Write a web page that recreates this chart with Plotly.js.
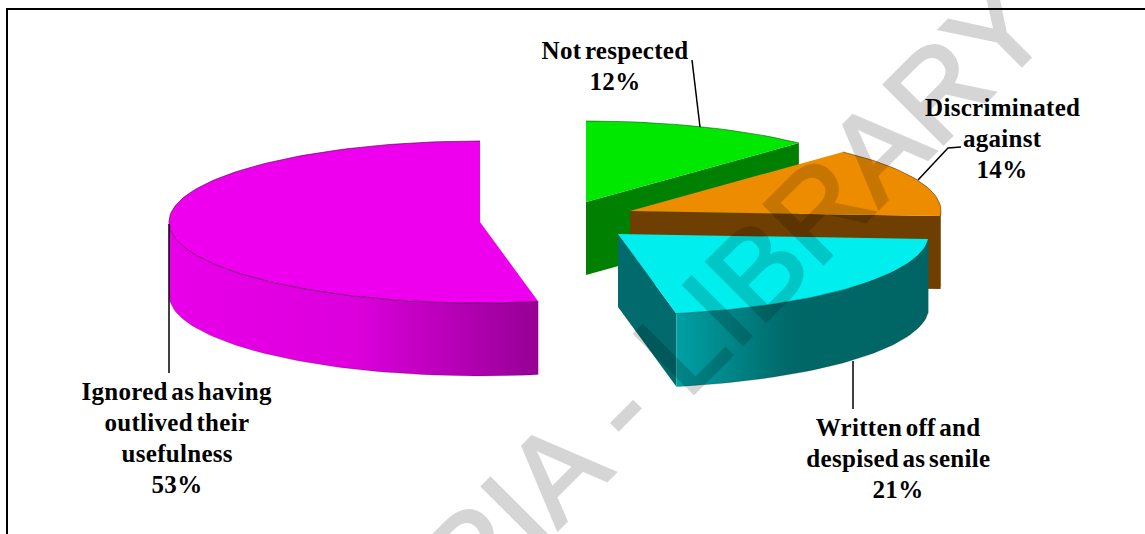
<!DOCTYPE html>
<html>
<head>
<meta charset="utf-8">
<script src="https://cdn.plot.ly/plotly-3.0.1.min.js"></script>
<style>
html,body{margin:0;padding:0;background:#fff}
#chart{width:1145px;height:534px}
</style>
</head>
<body>
<div id="chart"></div>
<script>
// Survey shares, in clockwise order from twelve o'clock
const categories = [
  ['Not respected'],
  ['Discriminated', 'against'],
  ['Written off and', 'despised as senile'],
  ['Ignored as having', 'outlived their', 'usefulness']
];
const shares = [12, 14, 21, 53];

// Exploded slice centres on the page
const centreX = [586, 630, 618, 480];
const centreY = [202, 211, 234, 222];

// Slice colours: top face, cut face, rim gradient from left to right
const topColours = ['#00e800', '#ee8c00', '#00eeee', '#ee00ee'];
const cutColours = ['#008000', '#6e3f00', '#006a6c', '#a000a0'];
const rimScales = [
  [[0, '#008000'], [1, '#008000']],
  [[0, '#6e3f00'], [1, '#6e3f00']],
  [[0, '#00a0a4'], [0.45, '#006868'], [1, '#006464']],
  [[0, '#e800e8'], [0.5, '#dc00dc'], [1, '#960096']]
];
const edgeColours = ['rgba(0,70,0,0.55)', 'rgba(70,40,0,0.55)', 'rgba(0,60,60,0.55)', 'rgba(60,0,60,0.6)'];

// Centre of each label's block and the y of its first line
const labelX = [615, 1002, 898, 177];
const labelY = [50.5, 107, 427.5, 391];
const linePitch = 31;

// Leader lines from each label to its slice
const leaders = [
  [[692, 60], [700, 127]],
  [[918, 180], [948, 148], [961, 147]],
  [[853, 361], [853, 409]],
  [[169, 224], [169, 373]]
];

const radiusX = 311;
const radiusY = 81;
const depth = 73;

const rad = d => d * Math.PI / 180;
function rimPoint(i, angle, drop) {
  return [centreX[i] + radiusX * Math.sin(rad(angle)), centreY[i] - radiusY * Math.cos(rad(angle)) + (drop || 0)];
}
function arc(i, from, to, drop) {
  const pts = [];
  const n = Math.max(2, Math.ceil(Math.abs(to - from) / 1.5));
  for (let k = 0; k <= n; k++) pts.push(rimPoint(i, from + (to - from) * k / n, drop));
  return pts;
}
function polygon(pts, extra) {
  const p = pts.concat([pts[0]]);
  return Object.assign({
    x: p.map(q => q[0]), y: p.map(q => q[1]),
    type: 'scatter', mode: 'lines', fill: 'toself', hoverinfo: 'skip', showlegend: false
  }, extra);
}
function edgeLine(pts, colour) {
  return {
    x: pts.map(q => q[0]), y: pts.map(q => q[1]), type: 'scatter', mode: 'lines',
    line: { color: colour, width: 1 }, hoverinfo: 'skip', showlegend: false
  };
}

const traces = [];
let running = 0;
shares.forEach((share, i) => {
  const a = running * 3.6;
  const b = (running + share) * 3.6;
  running += share;

  // Cut face on the clockwise end of the slice, when it looks towards the viewer
  if (Math.sin(rad(b)) > 0.01) {
    const c = [centreX[i], centreY[i]];
    const e = rimPoint(i, b);
    traces.push(polygon([c, e, [e[0], e[1] + depth], [c[0], c[1] + depth]], {
      fillcolor: cutColours[i], line: { color: cutColours[i], width: 0 }
    }));
  }

  // Outer rim, limited to the front half of the pie
  const ra = Math.max(a, 90);
  const rb = Math.min(b, 270);
  if (rb > ra) {
    const upper = arc(i, ra, rb, 0);
    const lower = arc(i, rb, ra, depth);
    const xs = upper.map(q => q[0]);
    traces.push(polygon(upper.concat(lower), {
      line: { color: rimScales[i][0][1], width: 0 },
      fillgradient: {
        type: 'horizontal',
        start: Math.min(...xs), stop: Math.max(...xs),
        colorscale: rimScales[i]
      }
    }));
    traces.push(edgeLine(lower, 'rgba(0,0,0,0.18)'));
  }

  // Top face and its curved edge
  const outline = arc(i, a, b, 0);
  traces.push(polygon([[centreX[i], centreY[i]]].concat(outline), {
    fillcolor: topColours[i], line: { color: topColours[i], width: 0 }
  }));
  traces.push(edgeLine(outline, edgeColours[i]));
});

const labelFont = { family: '"Liberation Serif", serif', size: 25, color: '#000', weight: 700 };
const annotations = [];

// Library watermark across the page
annotations.push({
  text: 'RIA - LIBRARY',
  x: 733, y: 295, xref: 'x', yref: 'y', xanchor: 'center', yanchor: 'middle',
  textangle: -45, showarrow: false, opacity: 0.16,
  font: { family: '"Liberation Sans", sans-serif', size: 122, color: '#000' }
});

// One annotation per label line, closing with the share
categories.forEach((lines, i) => {
  lines.concat([shares[i] + '%']).forEach((line, k) => {
    annotations.push({
      text: line,
      x: labelX[i], y: labelY[i] + k * linePitch, xref: 'x', yref: 'y',
      xanchor: 'center', yanchor: 'middle', align: 'center',
      showarrow: false, font: labelFont
    });
  });
});

const shapes = leaders.map(l => ({
  type: 'path', xref: 'x', yref: 'y',
  path: l.map((p, k) => (k ? 'L' : 'M') + p[0] + ',' + p[1]).join(' '),
  line: { color: '#000', width: 1.5 }
}));
shapes.push(
  { type: 'line', xref: 'x', yref: 'y', x0: 6, x1: 1145, y0: 9, y1: 9, line: { color: '#000', width: 2 } },
  { type: 'line', xref: 'x', yref: 'y', x0: 7, x1: 7, y0: 9, y1: 534, line: { color: '#000', width: 2 } }
);

const hidden = { visible: false, fixedrange: true };
Plotly.newPlot('chart', traces, {
  width: 1145, height: 534,
  margin: { l: 0, r: 0, t: 0, b: 0 },
  paper_bgcolor: '#fff', plot_bgcolor: '#fff',
  showlegend: false,
  xaxis: Object.assign({ range: [0, 1145] }, hidden),
  yaxis: Object.assign({ range: [534, 0] }, hidden),
  annotations: annotations,
  shapes: shapes
}, { displayModeBar: false, staticPlot: true }).then(() => {
  document.querySelectorAll('.annotation-text').forEach(t => {
    if (t.textContent.includes('LIBRARY')) {
      // Heavier strokes for the watermark lettering
      t.style.stroke = '#000';
      t.style.strokeWidth = '3px';
    } else {
      // Tight word gaps in the serif captions
      t.style.wordSpacing = '-3px';
      t.style.letterSpacing = '0.3px';
    }
  });
});
</script>
</body>
</html>
